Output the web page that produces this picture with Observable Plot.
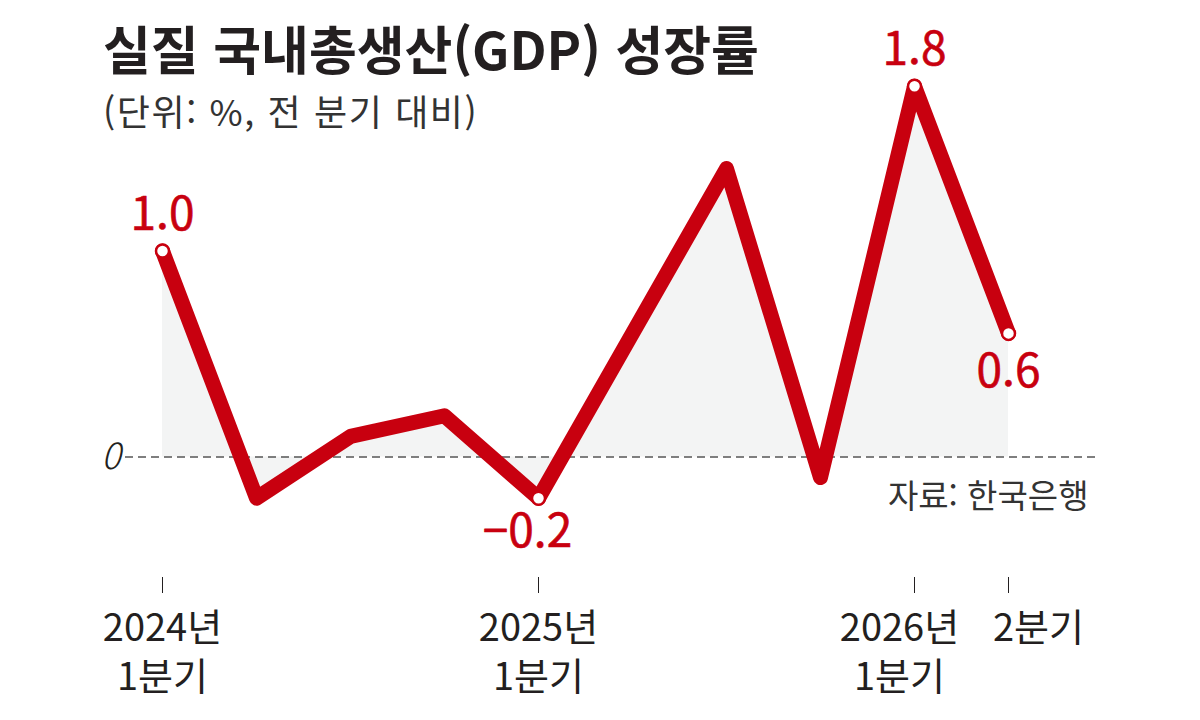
<!DOCTYPE html>
<html lang="ko">
<head>
<meta charset="utf-8">
<script src="https://cdn.jsdelivr.net/npm/d3@7"></script>
<script src="https://cdn.jsdelivr.net/npm/@observablehq/plot@0.6"></script>
<style>
  html, body { margin: 0; padding: 0; background: #fff; }
  #wrap { position: relative; width: 1200px; height: 720px; font-family: "Noto Sans CJK KR", sans-serif; }
  #title { position: absolute; left: 103px; top: 20px; font-size: 52px; line-height: 56px; font-weight: 700; color: #231f20; letter-spacing: 0px; white-space: nowrap; margin: 0; }
  #subtitle { position: absolute; left: 103px; top: 88px; font-size: 36px; line-height: 44px; font-weight: 400; color: #333; letter-spacing: 1.6px; white-space: nowrap; margin: 0; }
  #chart { position: absolute; left: 0; top: 0; }
</style>
</head>
<body>
<div id="wrap">
  <div id="chart"></div>
  <h1 id="title">실질 국내총생산(GDP) 성장률</h1>
  <div id="subtitle">(단위: %, 전 분기 대비)</div>
</div>
<script>
// ---- data ----
const quarters = ["2024-Q1","2024-Q2","2024-Q3","2024-Q4","2025-Q1","2025-Q2","2025-Q3","2025-Q4","2026-Q1","2026-Q2"];
const growth   = [1.0, -0.2, 0.1, 0.2, -0.2, 0.6, 1.4, -0.1, 1.8, 0.6];
const labeledQuarters = ["2024-Q1", "2025-Q1", "2026-Q1", "2026-Q2"];
const labelAbove = ["2024-Q1", "2026-Q1"];
const tickQuarters = ["2024-Q1", "2025-Q1", "2026-Q1", "2026-Q2"];
const tickLabels = ["2024년\n1분기", "2025년\n1분기", "2026년\n1분기", "2분기"];
const sourceText = "자료: 한국은행";

const RED = "#c8000f";
const INK = "#231f20";
const FONT = "Noto Sans CJK KR, sans-serif";

const data = quarters.map((q, i) => ({q, v: growth[i]}));
const labeled = data.filter(d => labeledQuarters.includes(d.q));
const fmt = v => (v < 0 ? "−" : "") + Math.abs(v).toFixed(1);
const ticks = tickQuarters.map((q, i) => ({q, label: tickLabels[i]}));

const tickLabelStyle = {x: "q", text: "label", frameAnchor: "bottom", lineAnchor: "top", dy: 29, fontSize: 38, lineHeight: 1.28, fill: INK};
const valueStyle = {x: "q", y: "v", text: d => fmt(d.v), fill: RED, fontSize: 46, fontWeight: 400, lineAnchor: "middle", letterSpacing: -1.5, stroke: RED, strokeWidth: 0.6};

const chart = Plot.plot({
  width: 1200,
  height: 720,
  marginLeft: 160,
  marginRight: 190,
  marginTop: 44.5,
  marginBottom: 143,
  style: {fontFamily: FONT, background: "transparent"},
  x: {type: "point", domain: quarters, padding: 0},
  y: {domain: [-0.585, 2]},
  marks: [
    Plot.areaY(data, {x: "q", y: "v", fill: "#f3f4f4"}),
    Plot.ruleY([0], {stroke: "#555", strokeWidth: 1.5, strokeDasharray: "8,5", insetLeft: -35, insetRight: -90}),
    Plot.axisY([0], {anchor: "left", tickSize: 0, tickPadding: 40, tickFormat: d => String(d), fontSize: 36, fontStyle: "italic", fontWeight: 300, fill: INK, label: null}),
    Plot.axisX(tickQuarters, {anchor: "bottom", tickSize: 16, tickFormat: () => "", stroke: INK, strokeWidth: 1, label: null}),
    Plot.text(ticks.slice(0, 2), {...tickLabelStyle}),
    Plot.text(ticks.slice(2, 3), {...tickLabelStyle, dx: -15}),
    Plot.text(ticks.slice(3), {...tickLabelStyle, dx: 30}),
    Plot.line(data, {x: "q", y: "v", stroke: RED, strokeWidth: 15, strokeLinejoin: "round", strokeLinecap: "round"}),
    Plot.dot(labeled, {x: "q", y: "v", r: 6.5, fill: "white", stroke: RED, strokeWidth: 2.5}),
    Plot.text(labeled.filter(d => labelAbove.includes(d.q)), {...valueStyle, dy: -36}),
    Plot.text(labeled.filter(d => !labelAbove.includes(d.q) && d.v >= 0), {...valueStyle, dy: 39}),
    Plot.text(labeled.filter(d => !labelAbove.includes(d.q) && d.v < 0), {...valueStyle, dy: 34, dx: -11}),
    Plot.text([sourceText], {frameAnchor: "bottom-right", dx: 78, dy: -80, textAnchor: "end", lineAnchor: "middle", fontSize: 33, letterSpacing: 0.5, fill: "#333"})
  ]
});
document.getElementById("chart").append(chart);
</script>
</body>
</html>
